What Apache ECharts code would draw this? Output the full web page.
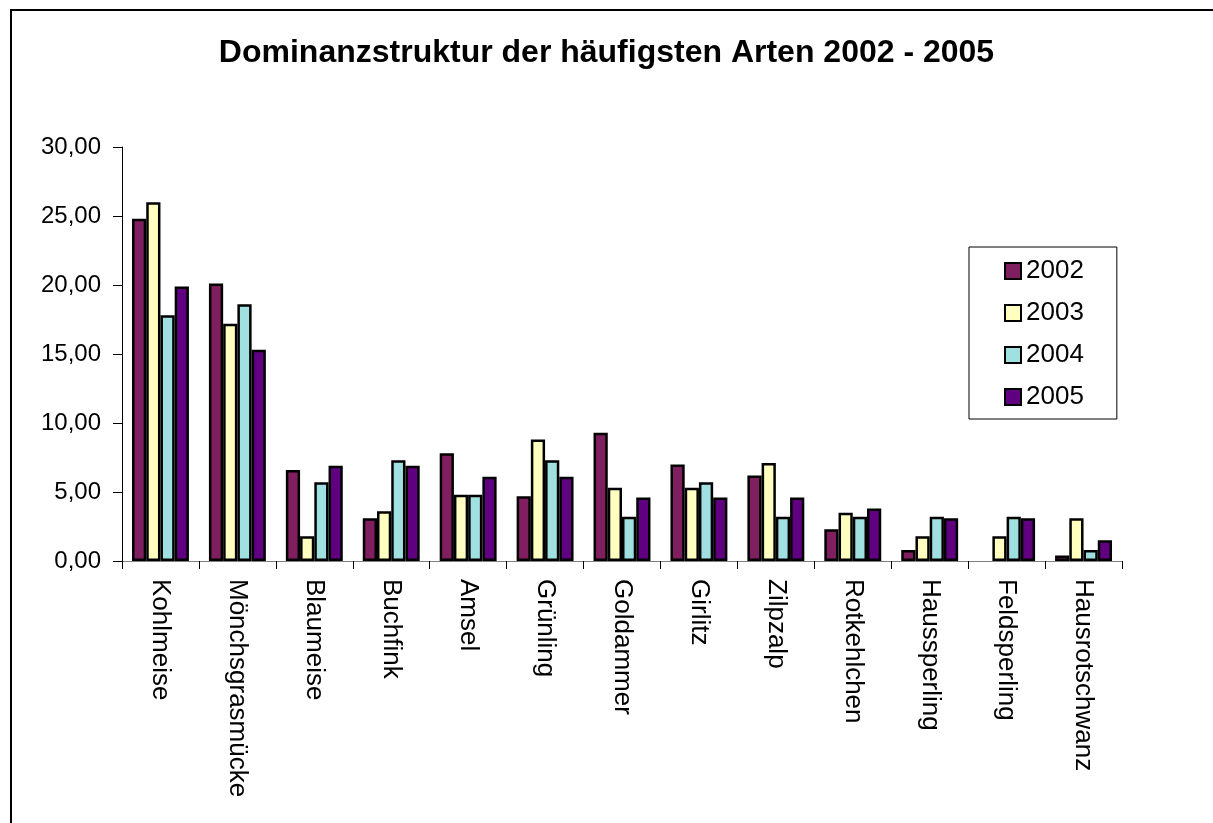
<!DOCTYPE html>
<html lang="de">
<head>
    <meta charset="UTF-8">
    <title>Dominanzstruktur</title>
    <script src="https://cdn.jsdelivr.net/npm/echarts@6/dist/echarts.min.js"></script>
    <style>
        html, body { margin: 0; padding: 0; background: #fff; }
    </style>
</head>
<body>
<div id="main" style="width: 1213px;height:823px;"></div>
<script>
    // Arten und Dominanzwerte (%) je Jahr
    var categories = ['Kohlmeise', 'Mönchsgrasmücke', 'Blaumeise', 'Buchfink', 'Amsel', 'Grünling',
        'Goldammer', 'Girlitz', 'Zilpzalp', 'Rotkehlchen', 'Haussperling', 'Feldsperling', 'Hausrotschwanz'];
    var years = ['2002', '2003', '2004', '2005'];
    var v2002 = [24.8, 20.1, 6.6, 3.1, 7.8, 4.7, 9.3, 7.0, 6.2, 2.3, 0.8, null, 0.4];
    var v2003 = [26.0, 17.2, 1.8, 3.6, 4.8, 8.8, 5.3, 5.3, 7.1, 3.5, 1.8, 1.8, 3.1];
    var v2004 = [17.8, 18.6, 5.7, 7.3, 4.8, 7.3, 3.2, 5.7, 3.2, 3.2, 3.2, 3.2, 0.8];
    var v2005 = [19.9, 15.3, 6.9, 6.9, 6.1, 6.1, 4.6, 4.6, 4.6, 3.8, 3.1, 3.1, 1.5];
    var colors = ['#7f1f5f', '#ffffc0', '#a0e0e0', '#600080'];

    var font = '"Liberation Sans", Arial, sans-serif';
    var values = [v2002, v2003, v2004, v2005];
    var series = years.map(function (y, i) {
        return {
            name: y,
            type: 'bar',
            data: values[i],
            barGap: '0%',
            barCategoryGap: '26%',
            itemStyle: { color: colors[i], borderColor: '#000', borderWidth: 2.5 },
            emphasis: { disabled: true }
        };
    });

    var myChart = echarts.init(document.getElementById('main'));
    myChart.setOption({
        animation: false,
        title: {
            text: 'Dominanzstruktur der häufigsten Arten 2002 - 2005',
            left: 'center',
            top: 32,
            textStyle: { fontFamily: font, fontSize: 32, fontWeight: 'bold', color: '#000' }
        },
        graphic: [{
            type: 'rect',
            shape: { x: 11, y: 10, width: 1400, height: 1000 },
            style: { fill: 'none', stroke: '#000', lineWidth: 2 },
            silent: true
        }],
        legend: {
            orient: 'vertical',
            left: 969,
            top: 247,
            padding: [11, 33, 9, 35],
            itemGap: 16,
            itemWidth: 16,
            itemHeight: 16,
            icon: 'rect',
            borderColor: '#000',
            borderWidth: 1,
            itemStyle: { borderWidth: 2 },
            textStyle: { fontFamily: font, fontSize: 26, color: '#000' },
            data: years
        },
        grid: { left: 122, right: 91, top: 147, bottom: 262, containLabel: false },
        xAxis: {
            type: 'category',
            data: categories,
            axisLine: { lineStyle: { color: '#808080', width: 1 } },
            axisTick: { show: true, length: 8, lineStyle: { color: '#000' } },
            axisLabel: { rotate: -90, margin: 18, interval: 0, fontFamily: font, fontSize: 26, color: '#000' }
        },
        yAxis: {
            type: 'value',
            min: 0,
            max: 30,
            interval: 5,
            splitLine: { show: false },
            axisLine: { show: true, lineStyle: { color: '#000', width: 1 } },
            axisTick: { show: true, length: 9, lineStyle: { color: '#000' } },
            axisLabel: {
                margin: 21,
                fontFamily: font,
                fontSize: 24,
                color: '#000',
                formatter: function (v) { return v.toFixed(2).replace('.', ','); }
            }
        },
        series: series
    });
</script>
</body>
</html>
